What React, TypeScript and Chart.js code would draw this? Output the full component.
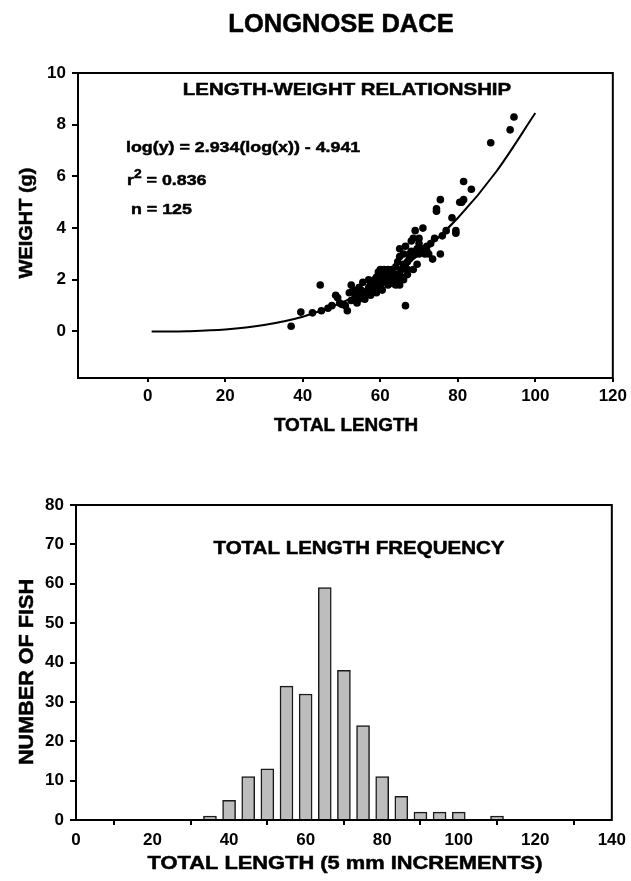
import React, { useEffect, useRef } from 'react';
import { Chart, registerables } from 'chart.js';

Chart.register(...registerables);

// ---------- DATA ----------
// Scatter: total length (mm) vs weight (g)
const LENGTH_X = [
  37, 39.5, 42.5, 44.5, 44.8, 46.5, 47.5, 48.5, 49, 49.5, 50, 51, 51.5, 52, 52.5, 52.5, 53, 53.5, 54, 54, 54.5, 54.5,
  55, 55, 55.5, 56, 56, 56.5, 57, 57, 57.5, 57.5, 58, 58, 58.5, 58.5, 59, 59, 59, 59.5, 59.5, 60, 60, 60, 60, 60.5,
  60.5, 60.5, 61, 61, 61, 61, 61.5, 61.5, 62, 62, 62, 62, 62.5, 62.5, 63, 63, 63, 63, 63.5, 63.5, 64, 64, 64, 64.5,
  64.5, 65, 65, 65, 65, 65.5, 65.5, 66, 66, 66, 66.5, 66.5, 66.5, 67, 67, 67, 67.5, 67.5, 68, 68, 68, 68.5, 68.5, 69,
  69, 69.5, 69.5, 70, 70, 70, 70.5, 71, 71, 71.5, 72, 72, 72.5, 73, 73.5, 74, 74.5, 74.5, 75.5, 75.5, 76, 77, 78.5,
  79.5, 79.5, 80.5, 81, 81.5, 81.5, 83.5, 88.5, 93.5, 94.5
];
const WEIGHT_Y = [
  0.2, 0.75, 0.72, 1.8, 0.8, 0.9, 1.0, 1.4, 1.3, 1.1, 1.05, 1.0, 0.8, 1.5, 1.8, 1.2, 1.6, 1.35, 1.1, 1.5, 1.25, 1.7,
  1.4, 1.6, 1.9, 1.25, 1.45, 1.55, 1.7, 2.0, 1.8, 1.4, 1.9, 1.6, 2.0, 1.75, 1.5, 1.7, 2.1, 2.3, 1.9, 2.0, 2.2, 2.4, 1.8, 2.1,
  2.3, 1.6, 2.0, 2.2, 2.4, 1.9, 2.1, 2.3, 2.0, 2.2, 2.4, 1.8, 2.1, 2.3, 2.0, 2.2, 2.4, 1.9, 2.1, 1.85, 2.2, 1.8, 2.5, 2.0,
  2.7, 1.8, 2.2, 2.9, 3.2, 2.4, 2.1, 2.0, 2.6, 3.0, 1.0, 3.3, 2.5, 2.2, 2.4, 2.7, 2.8, 3.0, 3.1, 3.5, 2.9, 3.6, 2.4, 3.0,
  3.9, 3.2, 2.6, 3.0, 3.4, 3.6, 3.1, 4.0, 3.2, 3.0, 3.3, 3.1, 3.0, 3.4, 2.8, 3.6, 4.65, 4.75, 3.0, 5.1, 3.7, 3.9, 4.4,
  3.8, 3.9, 5.0, 5.0, 5.1, 5.8, 5.5, 7.3, 7.8, 8.3
];
// Fitted curve log(y) = 2.934(log(x)) - 4.941
const FIT_X = [1, 5, 10, 20, 30, 40, 50, 60, 70, 80, 90, 100];
const FIT_Y = [0, 0.001, 0.01, 0.075, 0.25, 0.57, 1.11, 1.89, 2.97, 4.39, 6.2, 8.45];

// Histogram: total length (5 mm increments)
const BIN_CENTERS = [35, 40, 45, 50, 55, 60, 65, 70, 75, 80, 85, 90, 95, 100, 110];
const FISH_COUNTS = [1, 5, 11, 13, 34, 32, 59, 38, 24, 11, 6, 2, 2, 2, 1];

// Tick labels
const TOP_X_TICKS = [0, 20, 40, 60, 80, 100, 120];
const TOP_Y_TICKS = [0, 2, 4, 6, 8, 10];
const BOT_X_TICKS = [0, 20, 40, 60, 80, 100, 120, 140];
const BOT_Y_TICKS = [0, 10, 20, 30, 40, 50, 60, 70, 80];

// Texts
const MAIN_TITLE = 'LONGNOSE DACE';
const TOP_TITLE = 'LENGTH-WEIGHT RELATIONSHIP';
const EQUATION = 'log(y) = 2.934(log(x)) - 4.941';
const R2_TEXT = ' = 0.836';
const N_TEXT = 'n = 125';
const TOP_X_TITLE = 'TOTAL LENGTH';
const TOP_Y_TITLE = 'WEIGHT (g)';
const BOT_TITLE = 'TOTAL LENGTH FREQUENCY';
const BOT_X_TITLE = 'TOTAL LENGTH (5 mm INCREMENTS)';
const BOT_Y_TITLE = 'NUMBER OF FISH';

// ---------- DRAW HELPERS ----------
const FAMILY = '"Liberation Sans", Arial, Helvetica, sans-serif';
const fontStr = (size: number) => `bold ${size}px ${FAMILY}`;

type Seg = { t: string; size: number; dy?: number };
type TextItem = {
  segs: Seg[];
  x: number;
  y: number;
  align?: 'left' | 'center';
  sx?: number;
  rotate?: boolean;
};

function drawItem(ctx: CanvasRenderingContext2D, item: TextItem) {
  ctx.save();
  ctx.fillStyle = '#000';
  ctx.strokeStyle = '#000';
  ctx.lineWidth = 0.5;
  ctx.translate(item.x, item.y);
  if (item.rotate) ctx.rotate(-Math.PI / 2);
  ctx.scale(item.sx ?? 1, 1);
  ctx.textBaseline = item.rotate ? 'middle' : 'alphabetic';
  ctx.textAlign = 'left';
  let total = 0;
  for (const s of item.segs) {
    ctx.font = fontStr(s.size);
    total += ctx.measureText(s.t).width;
  }
  let cx = (item.align ?? 'left') === 'center' ? -total / 2 : 0;
  for (const s of item.segs) {
    ctx.font = fontStr(s.size);
    ctx.fillText(s.t, cx, s.dy ?? 0);
    ctx.strokeText(s.t, cx, s.dy ?? 0);
    cx += ctx.measureText(s.t).width;
  }
  ctx.restore();
}

function makeDecorPlugin(id: string, texts: TextItem[]) {
  return {
    id,
    afterDraw(chart: any) {
      const { ctx, chartArea } = chart;
      ctx.save();
      ctx.strokeStyle = '#000';
      ctx.lineWidth = 2;
      ctx.strokeRect(chartArea.left, chartArea.top, chartArea.right - chartArea.left, chartArea.bottom - chartArea.top);
      ctx.restore();
      texts.forEach((t) => drawItem(ctx, t));
    },
  };
}

const tickFont = { family: FAMILY, size: 17, weight: 'bold' as const };
const axisGrid = (len: number) => ({
  display: true,
  drawOnChartArea: false,
  drawTicks: true,
  tickLength: len,
  color: '#000',
  lineWidth: 2,
});

function setTicks(values: number[]) {
  return (scale: any) => {
    scale.ticks = values.map((v) => ({ value: v }));
  };
}

// ---------- COMPONENTS ----------
function ScatterChart() {
  const ref = useRef<HTMLCanvasElement | null>(null);
  useEffect(() => {
    if (!ref.current) return;
    const points = LENGTH_X.map((x, i) => ({ x, y: WEIGHT_Y[i] }));
    const curve = FIT_X.map((x, i) => ({ x, y: FIT_Y[i] }));
    const texts: TextItem[] = [
      { segs: [{ t: MAIN_TITLE, size: 25 }], x: 341, y: 32, align: 'center', sx: 1.02 },
      { segs: [{ t: TOP_TITLE, size: 17 }], x: 347, y: 95, align: 'center', sx: 1.2 },
      { segs: [{ t: EQUATION, size: 15.5 }], x: 126, y: 152, sx: 1.15 },
      {
        segs: [
          { t: 'r', size: 15.5 },
          { t: '2', size: 12, dy: -7 },
          { t: R2_TEXT, size: 15.5 },
        ],
        x: 127,
        y: 185,
        sx: 1.15,
      },
      { segs: [{ t: N_TEXT, size: 15.5 }], x: 131, y: 214, sx: 1.15 },
      { segs: [{ t: TOP_X_TITLE, size: 18 }], x: 346, y: 431, align: 'center', sx: 1.05 },
      { segs: [{ t: TOP_Y_TITLE, size: 19 }], x: 27, y: 223, align: 'center', sx: 1.05, rotate: true },
    ];
    const chart = new Chart(ref.current, {
      type: 'scatter',
      data: {
        datasets: [
          {
            type: 'line',
            data: curve,
            borderColor: '#000',
            borderWidth: 2,
            pointRadius: 0,
            cubicInterpolationMode: 'monotone',
            fill: false,
          } as any,
          {
            type: 'scatter',
            data: points,
            backgroundColor: '#000',
            borderColor: '#000',
            borderWidth: 0,
            pointRadius: 3.8,
          },
        ],
      },
      options: {
        responsive: false,
        animation: false,
        devicePixelRatio: 1,
        layout: { padding: { top: 73, right: 18, left: 0, bottom: 0 } },
        plugins: { legend: { display: false }, tooltip: { enabled: false }, title: { display: false } },
        scales: {
          x: {
            type: 'linear',
            min: -18,
            max: 120,
            afterBuildTicks: setTicks(TOP_X_TICKS),
            afterFit: (s: any) => {
              s.height = 62;
            },
            grid: axisGrid(4),
            border: { display: false },
            ticks: { color: '#000', font: tickFont, padding: 4, maxRotation: 0, autoSkip: false },
          },
          y: {
            type: 'linear',
            min: -1.8,
            max: 10,
            afterBuildTicks: setTicks(TOP_Y_TICKS),
            afterFit: (s: any) => {
              s.width = 78;
            },
            grid: axisGrid(6),
            border: { display: false },
            ticks: { color: '#000', font: tickFont, padding: 6, autoSkip: false },
          },
        },
      },
      plugins: [makeDecorPlugin('decorTop', texts)],
    });
    return () => chart.destroy();
  }, []);
  return (
    <canvas
      ref={ref}
      width={631}
      height={440}
      style={{ position: 'absolute', left: 0, top: 0, width: 631, height: 440 }}
    />
  );
}

function HistogramChart() {
  const ref = useRef<HTMLCanvasElement | null>(null);
  useEffect(() => {
    if (!ref.current) return;
    const bars = BIN_CENTERS.map((x, i) => ({ x, y: FISH_COUNTS[i] }));
    const texts: TextItem[] = [
      { segs: [{ t: BOT_TITLE, size: 19 }], x: 359, y: 114, align: 'center', sx: 1.08 },
      { segs: [{ t: BOT_X_TITLE, size: 19 }], x: 345, y: 429, align: 'center', sx: 1.15 },
      { segs: [{ t: BOT_Y_TITLE, size: 20 }], x: 27, y: 232, align: 'center', sx: 1.08, rotate: true },
    ];
    const chart = new Chart(ref.current, {
      type: 'bar',
      data: {
        datasets: [
          {
            data: bars as any,
            backgroundColor: '#bdbdbd',
            borderColor: '#1a1a1a',
            borderWidth: 1.5,
            borderSkipped: 'bottom',
            barThickness: 13,
          },
        ],
      },
      options: {
        responsive: false,
        animation: false,
        devicePixelRatio: 1,
        layout: { padding: { top: 65, right: 18, left: 0, bottom: 0 } },
        plugins: { legend: { display: false }, tooltip: { enabled: false }, title: { display: false } },
        scales: {
          x: {
            type: 'linear',
            min: 0,
            max: 140,
            offset: false,
            afterBuildTicks: setTicks(BOT_X_TICKS),
            afterFit: (s: any) => {
              s.height = 61;
            },
            grid: axisGrid(5),
            border: { display: false },
            ticks: { color: '#000', font: tickFont, padding: 5, maxRotation: 0, autoSkip: false },
          },
          y: {
            type: 'linear',
            min: 0,
            max: 80,
            afterBuildTicks: setTicks(BOT_Y_TICKS),
            afterFit: (s: any) => {
              s.width = 76;
            },
            grid: axisGrid(6),
            border: { display: false },
            ticks: { color: '#000', font: tickFont, padding: 6, autoSkip: false },
          },
        },
      },
      plugins: [makeDecorPlugin('decorBottom', texts)],
    });
    return () => chart.destroy();
  }, []);
  return (
    <canvas
      ref={ref}
      width={631}
      height={441}
      style={{ position: 'absolute', left: 0, top: 440, width: 631, height: 441 }}
    />
  );
}

export default function App() {
  return (
    <div style={{ position: 'absolute', left: 0, top: 0, width: 631, height: 881, background: '#fff' }}>
      <ScatterChart />
      <HistogramChart />
    </div>
  );
}
